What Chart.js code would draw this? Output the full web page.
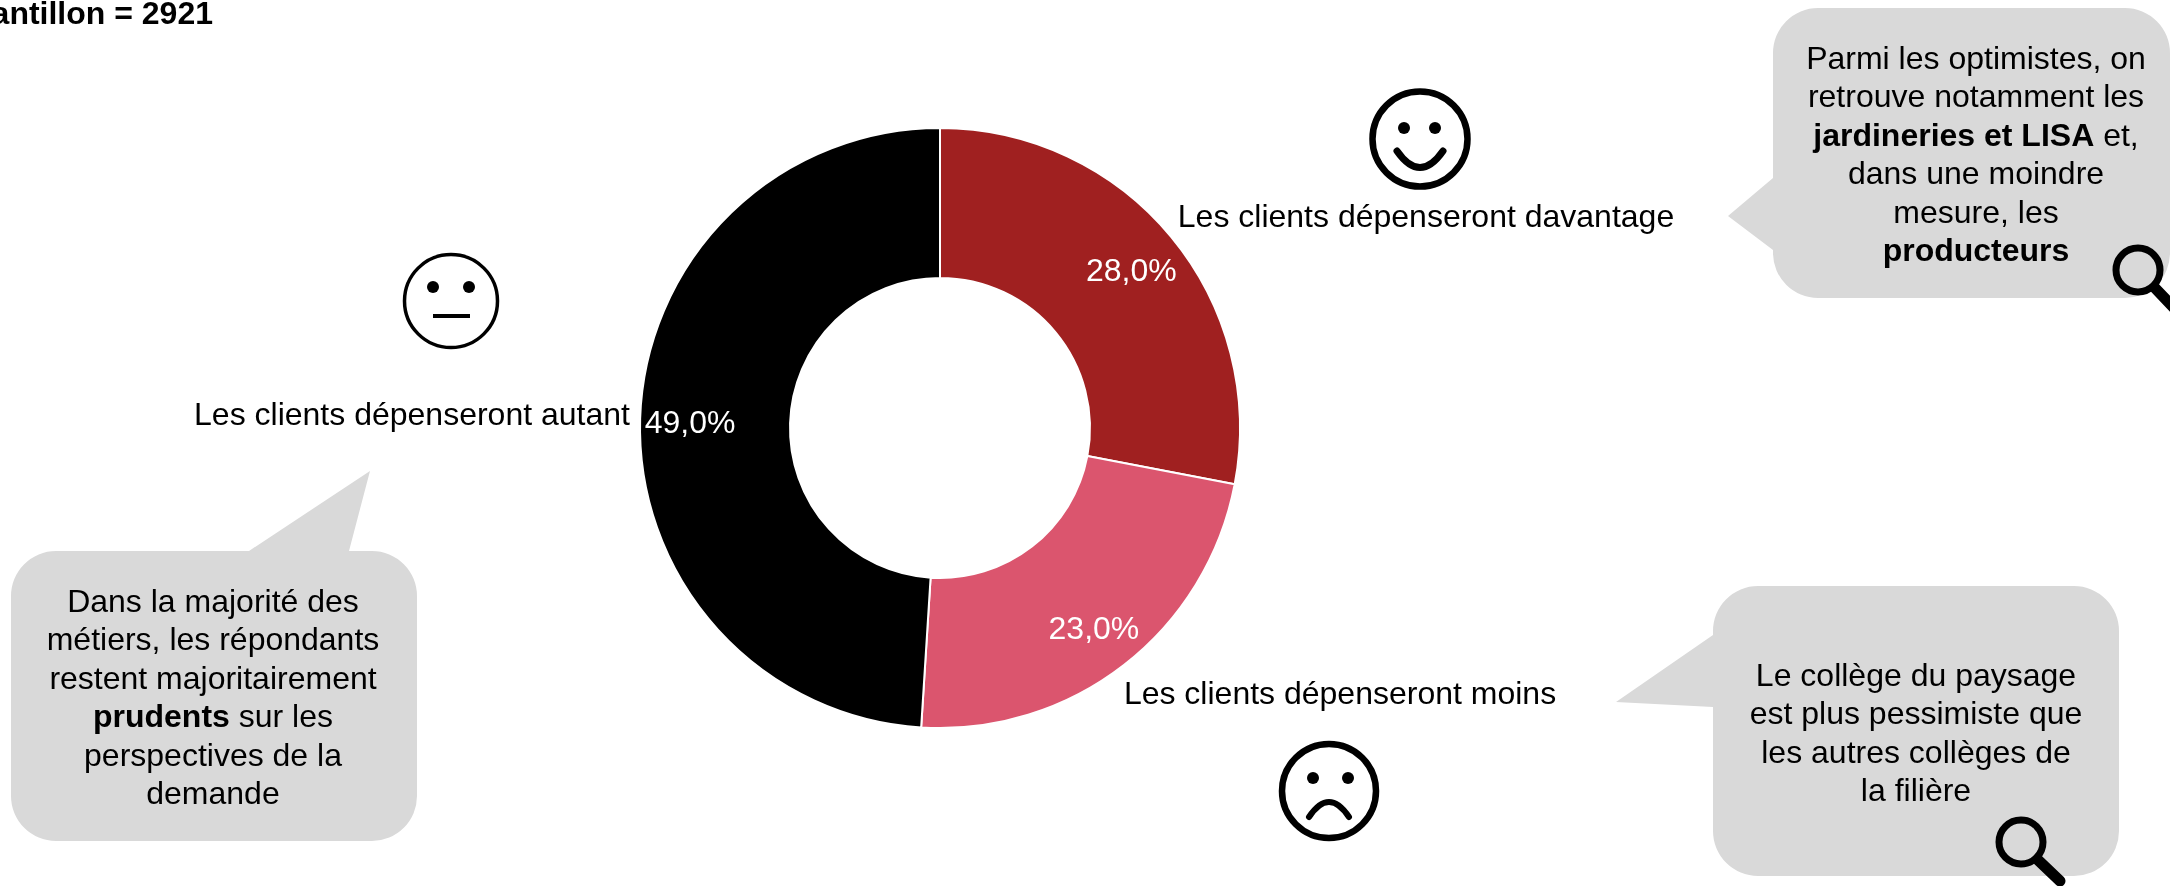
<!DOCTYPE html>
<html lang="fr"><head><meta charset="utf-8">
<script src="https://cdn.jsdelivr.net/npm/chart.js@4"></script>
<style>
html,body{margin:0;padding:0;background:#fff;overflow:hidden}
#wrap{position:relative;width:2170px;height:886px;overflow:hidden;font-family:"Liberation Sans",Arial,sans-serif;color:#000}
canvas{position:absolute;left:0;top:0}
svg{position:absolute;left:0;top:0}
.t{position:absolute;white-space:nowrap;transform:translate(-50%,-50%);font-size:32px;line-height:38.4px;text-align:center}
</style></head><body>
<div id="wrap">
<svg width="2170" height="886" viewBox="0 0 2170 886" fill="none">
<g fill="#D9D9D9">
<path d="M1818 8H2125a45 45 0 0 1 45 45V253a45 45 0 0 1-45 45H1818a45 45 0 0 1-45-45V250L1728 216L1773 178V53a45 45 0 0 1 45-45Z"/>
<path d="M56 551H249L370 471L349 551H372a45 45 0 0 1 45 45V796a45 45 0 0 1-45 45H56a45 45 0 0 1-45-45V596a45 45 0 0 1 45-45Z"/>
<path d="M1758 586H2074a45 45 0 0 1 45 45V831a45 45 0 0 1-45 45H1758a45 45 0 0 1-45-45V707L1616 702L1713 635V631a45 45 0 0 1 45-45Z"/>
</g>
<g stroke="#000" stroke-linecap="round">
<circle cx="1420" cy="139" r="47.5" stroke-width="6.5"/>
<path d="M1397 151Q1420 184 1443 151" stroke-width="7"/>
<circle cx="451" cy="301" r="46.5" stroke-width="3.5"/>
<path d="M433 316H470" stroke-width="4" stroke-linecap="butt"/>
<circle cx="1329" cy="791" r="47" stroke-width="6.5"/>
<path d="M1309 817Q1329 787 1349 817" stroke-width="6"/>
<circle cx="2138" cy="270" r="22" stroke-width="7"/>
<path d="M2155 288L2176 310" stroke-width="11"/>
<circle cx="2021" cy="842" r="22" stroke-width="7"/>
<path d="M2038 860L2060 881" stroke-width="11"/>
</g>
<g fill="#000">
<circle cx="1404" cy="128" r="6"/><circle cx="1435" cy="128" r="6"/>
<circle cx="433" cy="287" r="6"/><circle cx="469" cy="287" r="6"/>
<circle cx="1313" cy="778" r="6"/><circle cx="1348" cy="778" r="6"/>
</g>
</svg>
<canvas id="c" width="2170" height="886"></canvas>
<div class="t" style="left:1426px;top:216px">Les clients dépenseront davantage</div>
<div class="t" style="left:412px;top:414px">Les clients dépenseront autant</div>
<div class="t" style="left:1340px;top:693px">Les clients dépenseront moins</div>
<div class="t" style="left:213px;top:13px;transform:translate(-100%,-50%);font-weight:bold;">Echantillon = 2921</div>
<div class="t" style="left:1976px;top:154px">Parmi les optimistes, on<br>retrouve notamment les<br><b>jardineries et LISA</b> et,<br>dans une moindre<br>mesure, les<br><b>producteurs</b></div>
<div class="t" style="left:213px;top:697px">Dans la majorité des<br>métiers, les répondants<br>restent majoritairement<br><b>prudents</b> sur les<br>perspectives de la<br>demande</div>
<div class="t" style="left:1916px;top:733px">Le collège du paysage<br>est plus pessimiste que<br>les autres collèges de<br>la filière</div>
</div>
<script>
const categories = ["Les clients dépenseront davantage", "Les clients dépenseront moins", "Les clients dépenseront autant"];
const values = [28, 23, 49];
const colors = ["#A02020", "#DB556E", "#000000"];
const labelOffsets = [[18, -12], [16, 24], [-25, 3]];

const valueLabels = {
  id: "valueLabels",
  afterDatasetsDraw(chart) {
    const { ctx } = chart;
    ctx.save();
    ctx.fillStyle = "#fff";
    ctx.font = '32px "Liberation Sans", Arial, sans-serif';
    ctx.textAlign = "center";
    ctx.textBaseline = "middle";
    chart.getDatasetMeta(0).data.forEach((arc, i) => {
      const p = arc.tooltipPosition();
      const txt = values[i].toFixed(1).replace(".", ",") + "%";
      ctx.fillText(txt, p.x + labelOffsets[i][0], p.y + labelOffsets[i][1]);
    });
    ctx.restore();
  }
};

new Chart(document.getElementById("c"), {
  type: "doughnut",
  data: { labels: categories, datasets: [{ data: values, backgroundColor: colors, borderColor: "#fff", borderWidth: 2 }] },
  options: {
    responsive: false,
    animation: false,
    cutout: "50%",
    layout: { padding: { left: 639, right: 929, top: 127, bottom: 157 } },
    plugins: { legend: { display: false }, tooltip: { enabled: false }, title: { display: false } }
  },
  plugins: [valueLabels]
});
</script>
</body></html>
